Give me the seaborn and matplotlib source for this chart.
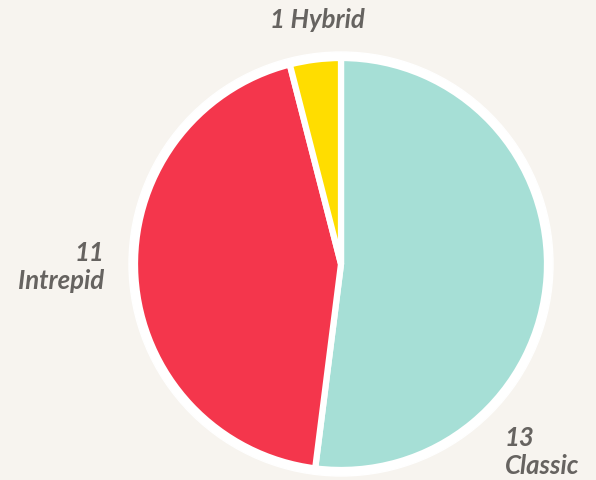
import matplotlib
matplotlib.use("Agg")
import matplotlib.pyplot as plt
import seaborn as sns

# Chart data
categories = ["Classic", "Intrepid", "Hybrid"]
counts = [13, 11, 1]
colors = ["#a6dfd6", "#f4364c", "#ffdd00"]

sns.set_theme(style="white")
plt.rcParams['font.family'] = ['Lato', 'DejaVu Sans']

bg = "#f7f4ef"
text_color = "#666360"

fig = plt.figure(figsize=(5.96, 4.80), dpi=100, facecolor=bg)
ax = fig.add_axes([0, 0, 1, 1])
ax.set_facecolor(bg)

cx, cy = 341, 480 - 264

# white ring behind the pie
ax.add_patch(plt.Circle((cx, cy), 212, color="white", zorder=0))

ax.pie(counts, colors=colors, startangle=90, counterclock=False,
       center=(cx, cy), radius=206, frame=True,
       wedgeprops=dict(edgecolor="white", linewidth=4.5))
ax.set_xlim(0, 596)
ax.set_ylim(0, 480)
ax.set_aspect("equal")
ax.axis("off")

label_style = dict(color=text_color, fontsize=18.5, fontweight="bold", style="italic")
ax.text(317, 480 - 20, f"{counts[2]} {categories[2]}", ha="center", va="center", **label_style)
ax.text(104, 480 - 267, f"{counts[1]}\n{categories[1]}", ha="right", va="center",
        linespacing=1.2, **label_style)
ax.text(505, 480 - 452, f"{counts[0]}\n{categories[0]}", ha="left", va="center",
        linespacing=1.2, **label_style)

fig.savefig("out.png", dpi=100, facecolor=bg)
